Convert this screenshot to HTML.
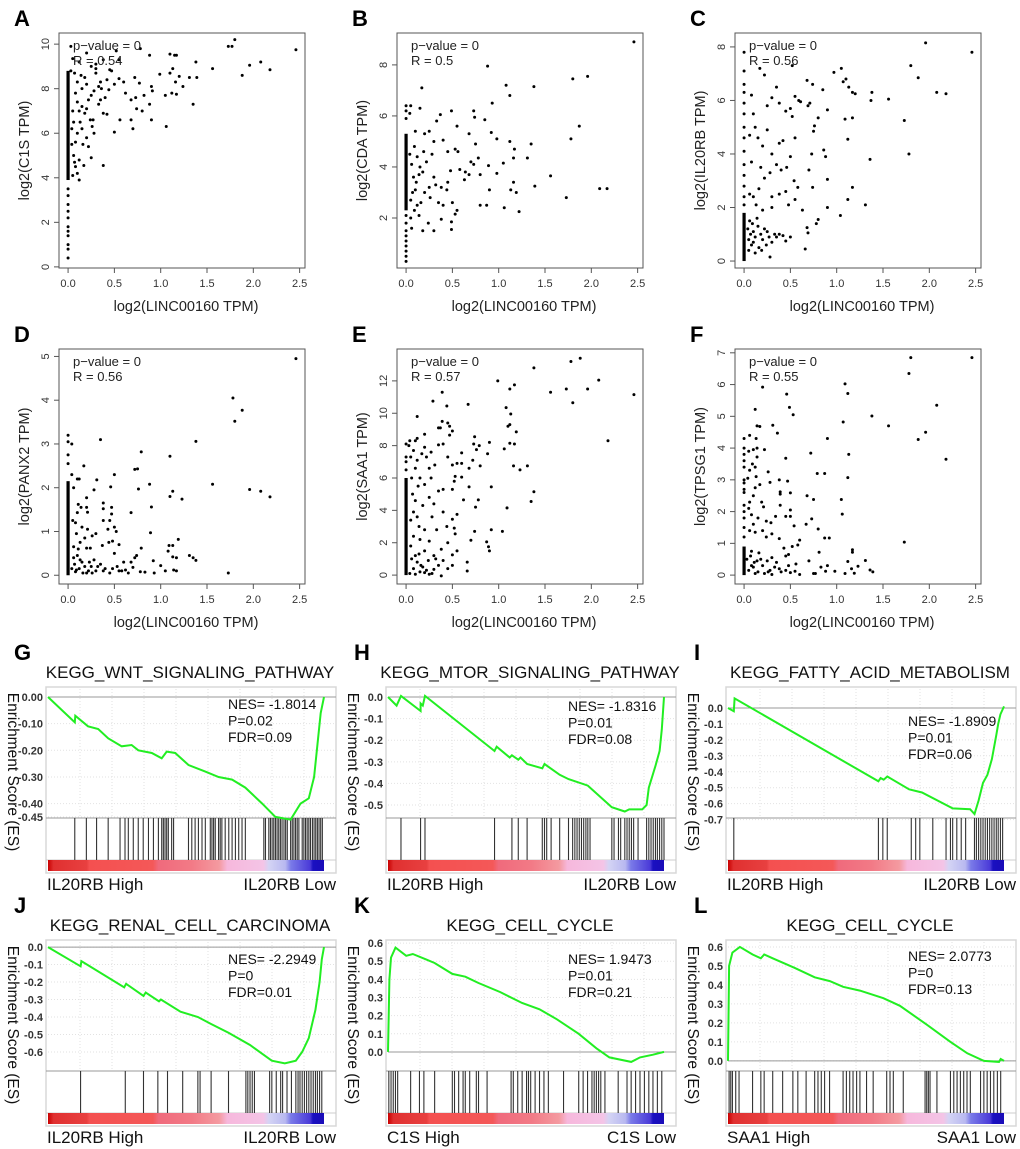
<!DOCTYPE html>
<html><head><meta charset="utf-8"><style>
body{margin:0;background:#fff;}
svg{display:block;font-family:"Liberation Sans",Arial,sans-serif;}
</style></head><body>
<svg id="fig" width="1020" height="1149" viewBox="0 0 1020 1149" xmlns="http://www.w3.org/2000/svg"></svg>
<script>
// ---------- scatter data ----------
const aPts=[[0.03,9.9],[0.05,9.35],[0.12,9.2],[0.2,9.6],[0.25,9.0],[0.3,9.1],[0.38,9.3],[0.52,9.7],[0.55,9.3],[0.78,9.8],[0.88,9.5],[1.1,9.55],[1.15,9.5],[1.17,9.5],[1.73,9.9],[1.77,9.9],[1.8,10.2],[2.46,9.75],[1.56,8.9],[1.38,9.2],[1.96,9.05],[2.08,9.2],[2.18,8.85],[1.88,8.6],[0.99,8.65],[1.1,8.7],[1.13,8.9],[1.2,8.55],[1.16,8.3],[1.24,8.1],[1.31,8.5],[1.39,8.5],[1.35,7.3],[1.06,6.3],[1.05,7.7],[1.12,7.8],[1.17,7.75],[0.9,8.1],[0.91,7.9],[0.82,7.7],[0.77,8.25],[0.72,8.5],[0.73,7.6],[0.68,7.5],[0.62,7.8],[0.6,8.3],[0.55,8.45],[0.47,8.8],[0.44,7.95],[0.5,8.2],[0.5,6.05],[0.56,6.6],[0.68,6.6],[0.7,6.2],[0.74,7.1],[0.88,7.3],[0.9,6.6],[0.8,7.0],[0.42,8.4],[0.4,7.6],[0.38,6.9],[0.38,4.55],[0.35,7.5],[0.33,8.1],[0.3,8.7],[0.28,7.9],[0.26,6.3],[0.25,4.9],[0.22,5.4],[0.2,5.8],[0.17,4.55],[0.15,7.2],[0.12,3.9],[0.1,4.2],[0.08,4.5],[0.06,5.0],[0.1,6.0],[0.13,6.5],[0.18,6.9],[0.22,7.5],[0.15,8.0],[0.1,8.3],[0.08,7.8],[0.05,7.0],[0.06,6.5],[0.12,7.0],[0.2,8.2],[0.27,6.6],[0.3,8.9],[0.18,8.5],[0.07,8.7],[0.03,8.8],[0.35,8.3],[0.45,8.85],[0.28,6.0],[0.24,6.6],[0.15,6.2],[0.08,5.6],[0.04,5.5],[0.16,5.5],[0.12,4.8],[0.05,4.1],[0.2,7.1],[0.33,7.3],[0.42,6.85],[0.36,8.0],[0.1,7.4],[0.14,8.6],[0.25,7.7],[0.04,6.2],[0.07,4.7]];
const aCol=[3.5,3.2,2.8,2.5,2.2,1.8,1.6,1.4,1.0,0.8,0.4];
const aColRange=[3.9,8.8];
const bPts=[[2.46,8.9],[0.88,7.95],[1.8,7.45],[1.96,7.55],[1.08,7.2],[1.38,7.15],[1.12,6.8],[0.17,7.1],[0.93,6.5],[0.73,6.2],[0.74,5.95],[0.49,6.2],[0.37,6.05],[0.33,5.8],[0.15,6.3],[0.05,6.4],[0.04,6.1],[0.55,5.6],[0.68,5.3],[0.85,5.85],[0.92,5.35],[1.87,5.6],[1.78,5.1],[0.98,5.1],[1.12,5.0],[1.35,4.9],[1.17,4.7],[0.75,4.9],[0.78,4.35],[1.16,4.35],[1.31,4.35],[1.05,4.15],[0.53,4.7],[0.56,4.6],[0.45,4.6],[0.4,5.05],[0.3,5.0],[0.25,5.4],[0.2,5.3],[0.1,5.4],[0.89,4.05],[0.7,4.2],[0.63,3.5],[0.68,3.7],[0.58,3.9],[0.48,3.85],[0.45,3.4],[0.38,3.2],[0.35,2.6],[0.4,2.5],[0.5,2.6],[0.55,2.3],[0.53,2.15],[0.44,3.1],[0.3,3.6],[0.25,3.2],[0.2,3.0],[0.16,2.6],[0.14,2.1],[0.12,2.5],[0.1,3.1],[0.08,3.6],[0.06,4.1],[0.12,4.4],[0.18,3.8],[0.22,4.2],[0.28,4.5],[0.32,3.3],[0.24,1.8],[0.18,1.5],[0.3,1.5],[0.49,1.55],[0.49,1.85],[0.38,1.95],[0.8,3.7],[0.87,2.5],[0.9,3.1],[0.98,3.75],[1.06,2.4],[1.13,3.1],[1.16,3.4],[1.19,3.0],[1.22,2.25],[1.39,3.25],[1.56,3.65],[1.73,2.8],[2.09,3.15],[2.17,3.15],[0.8,2.5],[0.73,4.1],[0.64,3.8],[0.06,1.6],[0.05,2.0],[0.15,4.0],[0.09,4.8],[0.04,4.5],[0.07,3.0],[0.11,3.4],[0.19,4.6],[0.26,2.8],[0.14,3.7],[0.05,2.7],[0.09,2.3]];
const bCol=[6.4,6.2,5.9,2.1,1.8,1.5,1.3,1.1,0.9,0.7,0.5,0.3];
const bColRange=[2.3,5.3];
const cPts=[[1.96,8.15],[2.46,7.8],[1.8,7.3],[1.88,6.85],[2.08,6.3],[2.18,6.25],[0.52,7.3],[0.17,7.2],[0.22,6.95],[0.97,7.05],[1.05,7.2],[1.1,6.8],[1.07,6.7],[0.85,6.4],[0.68,6.75],[0.74,6.6],[1.17,6.3],[1.2,6.25],[1.13,6.5],[1.38,6.3],[1.37,6.0],[1.56,6.05],[0.55,6.15],[0.59,6.0],[0.61,5.95],[0.71,5.9],[0.69,5.8],[0.5,5.7],[0.45,5.6],[0.38,5.9],[0.3,6.1],[0.25,5.8],[0.35,6.5],[0.9,5.65],[1.73,5.25],[1.09,5.3],[1.17,5.35],[0.8,5.35],[0.76,5.05],[0.75,4.85],[0.52,5.4],[0.55,4.6],[1.12,4.55],[1.78,4.0],[1.36,3.8],[0.73,4.0],[0.86,4.15],[0.88,3.9],[0.5,3.9],[0.42,4.5],[0.38,4.4],[0.3,4.0],[0.25,4.9],[0.2,4.3],[0.15,4.6],[0.12,5.0],[0.1,5.5],[0.08,6.2],[0.06,4.7],[0.18,3.5],[0.22,3.1],[0.28,3.3],[0.35,3.6],[0.4,3.4],[0.46,3.5],[0.54,3.0],[0.7,3.4],[0.9,3.05],[0.74,2.75],[0.58,2.75],[0.45,2.6],[0.3,2.4],[0.16,2.7],[0.1,2.4],[0.08,3.7],[0.06,2.5],[0.13,2.1],[0.2,1.9],[0.3,2.0],[0.38,2.5],[0.48,2.1],[0.55,2.3],[0.63,1.9],[0.9,2.0],[1.12,2.3],[1.17,2.75],[1.31,2.1],[1.04,1.7],[0.8,1.55],[0.78,1.4],[0.68,1.25],[0.69,1.05],[0.66,0.45],[0.5,0.9],[0.45,0.75],[0.38,1.0],[0.35,0.9],[0.28,0.15],[0.25,1.1],[0.2,0.8],[0.15,1.3],[0.1,1.1],[0.08,0.6],[0.06,1.5],[0.12,0.9],[0.18,1.0],[0.22,1.2],[0.3,0.7],[0.16,0.5],[0.05,0.8],[0.04,1.2],[0.14,1.6],[0.24,0.6],[0.33,1.0],[0.42,0.95],[0.12,0.3],[0.07,1.0],[0.1,0.7],[0.09,1.4],[0.19,0.4],[0.27,0.9],[0.05,0.4]];
const cCol=[2.1,2.4,2.8,3.2,3.6,4.1,4.6,5.0,5.5,5.9,6.3,6.6,7.1,7.8];
const cColRange=[0.0,1.8];
const dPts=[[2.46,4.95],[1.78,4.05],[1.88,3.77],[1.8,3.52],[1.38,3.06],[0.35,3.1],[0.04,3.0],[0.79,2.82],[1.1,2.72],[0.72,2.42],[0.75,2.43],[0.17,2.5],[0.04,2.3],[0.31,2.18],[0.5,2.3],[0.1,2.2],[0.12,2.2],[0.46,2.02],[0.88,2.08],[1.56,2.08],[1.96,1.96],[2.08,1.92],[2.18,1.79],[0.28,1.95],[0.76,1.97],[1.13,1.92],[1.1,1.8],[1.23,1.74],[0.06,2.0],[0.2,1.77],[0.11,1.62],[0.14,1.55],[0.2,1.55],[0.38,1.65],[0.47,1.55],[0.38,1.52],[0.9,1.56],[0.68,1.43],[0.21,1.44],[0.1,1.43],[0.47,1.4],[0.05,1.25],[0.08,1.2],[0.15,1.1],[0.38,1.25],[0.45,1.25],[0.43,1.05],[0.5,1.1],[0.52,1.0],[0.21,1.05],[0.3,0.95],[0.26,0.9],[0.18,0.85],[0.09,0.95],[0.13,0.75],[0.89,0.97],[1.19,0.82],[0.79,0.62],[1.09,0.68],[1.13,0.68],[0.37,0.68],[0.44,0.75],[0.48,0.78],[0.55,0.7],[0.06,0.65],[0.11,0.6],[0.2,0.62],[0.24,0.62],[1.08,0.55],[1.31,0.45],[1.35,0.4],[1.38,0.34],[1.13,0.42],[1.17,0.4],[0.92,0.33],[0.72,0.4],[0.74,0.45],[0.68,0.3],[0.5,0.5],[0.6,0.3],[0.53,0.2],[0.55,0.1],[0.62,0.12],[0.78,0.08],[0.83,0.07],[0.93,0.05],[1.0,0.22],[1.05,0.1],[1.14,0.12],[1.17,0.1],[1.73,0.05],[0.45,0.05],[0.4,0.15],[0.35,0.25],[0.3,0.1],[0.25,0.2],[0.2,0.05],[0.15,0.3],[0.12,0.15],[0.08,0.08],[0.06,0.4],[0.1,0.45],[0.18,0.2],[0.22,0.1],[0.28,0.35],[0.32,0.2],[0.16,0.05],[0.04,0.15],[0.26,0.05],[0.38,0.1],[0.48,0.15],[0.58,0.1],[0.7,0.18],[0.65,0.05],[0.07,0.25],[0.13,0.35],[0.23,0.3],[0.09,0.12]];
const dCol=[2.55,2.75,3.05,3.2];
const dColRange=[0.0,2.15];
const ePts=[[1.88,13.4],[1.78,13.2],[1.38,12.8],[0.99,12.0],[1.17,11.75],[2.08,12.05],[1.12,11.5],[1.56,11.3],[1.73,11.5],[1.96,11.5],[2.46,11.15],[0.39,11.3],[0.29,10.75],[1.8,10.65],[0.67,10.55],[0.44,10.45],[1.08,10.35],[1.13,9.95],[0.12,9.8],[0.39,9.5],[0.45,9.4],[0.47,9.2],[1.1,9.2],[1.12,9.3],[0.35,9.1],[0.37,9.1],[0.5,8.9],[1.19,8.85],[0.2,8.7],[0.47,8.65],[0.74,8.55],[0.12,8.45],[0.04,8.3],[0.03,8.0],[0.1,8.3],[1.12,8.15],[1.17,8.1],[0.9,8.2],[0.73,8.1],[0.79,8.0],[0.4,8.1],[0.35,8.05],[2.18,8.3],[0.2,7.9],[0.27,7.6],[0.17,7.5],[0.08,7.7],[0.05,7.3],[0.12,7.1],[0.22,7.3],[0.6,7.55],[0.88,7.5],[0.76,7.75],[1.06,7.8],[0.31,6.8],[0.25,6.6],[0.45,7.3],[0.5,6.8],[0.55,6.9],[0.6,6.9],[0.72,7.1],[0.8,6.75],[1.16,6.75],[1.31,6.75],[1.23,6.5],[0.68,6.6],[0.1,6.6],[0.15,6.0],[0.2,5.6],[0.27,6.0],[0.35,5.2],[0.4,5.3],[0.52,5.8],[0.53,6.1],[0.6,6.05],[0.5,5.3],[0.68,5.45],[0.92,5.45],[1.38,5.15],[1.35,4.55],[0.75,4.2],[0.78,4.65],[0.62,4.65],[1.09,4.15],[0.55,3.75],[0.5,3.45],[0.4,3.9],[0.3,4.4],[0.25,4.8],[0.18,4.3],[0.12,3.6],[0.08,3.9],[0.05,3.4],[0.14,3.0],[0.2,2.8],[0.28,3.6],[0.33,2.8],[0.44,3.0],[0.52,2.9],[0.53,2.55],[0.74,2.7],[0.92,2.8],[1.04,2.7],[0.7,2.15],[0.87,2.05],[0.89,1.75],[0.9,1.5],[0.55,1.5],[0.5,1.25],[0.45,2.0],[0.38,1.6],[0.3,1.2],[0.25,2.1],[0.2,1.5],[0.15,2.2],[0.1,1.2],[0.08,2.4],[0.05,1.8],[0.12,0.8],[0.18,0.5],[0.22,0.3],[0.28,0.1],[0.35,0.6],[0.4,0.9],[0.45,0.4],[0.5,0.6],[0.66,0.8],[0.66,0.25],[0.38,-0.05],[0.15,0.2],[0.08,0.4],[0.04,0.1],[0.1,0.05],[0.2,0.15],[0.25,0.05],[0.3,0.35],[0.06,1.0],[0.14,1.3],[0.24,0.9],[0.32,1.0],[0.16,0.6],[0.07,5.0],[0.1,4.6],[0.13,5.5],[0.06,6.0]];
const eCol=[6.5,7.0,7.3,8.1];
const eColRange=[0.0,6.0];
const fPts=[[1.8,6.85],[2.46,6.85],[1.78,6.35],[1.09,6.02],[0.2,5.92],[1.12,5.72],[0.46,5.7],[2.08,5.35],[0.49,5.28],[0.12,5.22],[0.53,5.05],[1.38,5.01],[1.07,4.82],[0.31,4.72],[1.56,4.7],[0.14,4.7],[0.17,4.68],[1.96,4.5],[0.36,4.47],[0.06,4.4],[0.13,4.3],[0.9,4.3],[1.88,4.27],[0.14,4.0],[0.22,3.95],[0.1,3.95],[0.05,3.9],[0.72,3.84],[1.13,3.8],[0.45,3.68],[2.18,3.65],[0.14,3.72],[0.09,3.5],[0.12,3.4],[0.06,3.3],[0.26,3.25],[0.79,3.2],[0.87,3.2],[0.13,3.1],[0.04,3.05],[1.12,3.07],[0.38,3.0],[0.47,2.96],[0.28,2.92],[0.17,2.85],[0.12,2.75],[0.39,2.62],[0.5,2.59],[0.39,2.55],[0.68,2.5],[0.1,2.5],[0.75,2.38],[1.05,2.38],[0.06,2.3],[0.19,2.3],[0.05,2.1],[0.39,2.2],[0.21,2.15],[0.5,2.05],[1.06,1.92],[0.45,1.85],[0.5,1.85],[0.34,1.85],[0.08,1.9],[0.15,1.8],[0.24,1.7],[0.29,1.65],[0.73,1.77],[0.67,1.6],[0.54,1.55],[0.8,1.45],[0.1,1.6],[0.2,1.4],[0.12,1.35],[0.06,1.4],[0.3,1.3],[0.24,1.2],[0.38,1.15],[0.6,1.1],[0.87,1.17],[0.92,1.17],[0.58,0.95],[0.52,0.9],[0.43,0.85],[1.73,1.04],[1.17,0.8],[1.17,0.72],[0.81,0.72],[0.48,0.65],[0.45,0.6],[0.16,0.7],[0.08,0.75],[0.3,0.55],[0.25,0.45],[0.7,0.45],[1.31,0.46],[1.12,0.43],[0.56,0.35],[0.48,0.3],[0.38,0.2],[0.33,0.25],[0.28,0.15],[0.2,0.3],[0.15,0.1],[0.1,0.25],[0.05,0.15],[0.22,0.05],[0.4,0.1],[0.45,0.15],[0.55,0.12],[0.6,0.02],[0.75,0.05],[0.77,0.05],[0.83,0.25],[0.88,0.12],[0.9,0.3],[0.98,0.12],[1.09,0.05],[1.16,0.2],[1.19,0.06],[1.23,0.28],[1.36,0.16],[1.39,0.1],[0.03,0.5],[0.12,0.05],[0.18,0.5],[0.26,0.1],[0.35,0.4],[0.08,0.3],[0.14,0.45],[0.3,0.02],[0.5,0.08],[0.07,0.6],[0.11,0.4]];
const fCol=[1.2,1.5,1.8,2.0,2.2,2.6,2.7,2.9,3.0,3.4,3.6,3.8,4.0,4.3];
const fColRange=[0.0,0.9];
const xTicks=[0,0.5,1,1.5,2,2.5];
const xTickLabels=["0.0","0.5","1.0","1.5","2.0","2.5"];
const aYTicks=[0,2,4,6,8,10], bYTicks=[2,4,6,8], cYTicks=[0,2,4,6,8], dYTicks=[0,1,2,3,4,5], eYTicks=[0,2,4,6,8,10,12], fYTicks=[0,1,2,3,4,5,6,7];

// ---------- GSEA data ----------
const gRank=[0,0.097,0.099,0.145,0.182,0.218,0.267,0.303,0.327,0.376,0.412,0.43,0.461,0.509,0.57,0.618,0.667,0.715,0.776,0.824,0.879,0.915,0.945,0.964,0.976,0.988,1.0];
const gES=[0,-0.095,-0.07,-0.11,-0.12,-0.155,-0.185,-0.18,-0.2,-0.21,-0.23,-0.205,-0.21,-0.255,-0.28,-0.3,-0.31,-0.34,-0.4,-0.45,-0.46,-0.4,-0.38,-0.3,-0.18,-0.06,0.0];
const gHits=[0.097,0.139,0.176,0.218,0.261,0.279,0.291,0.309,0.327,0.345,0.364,0.382,0.40,0.412,0.418,0.424,0.43,0.436,0.448,0.455,0.509,0.521,0.533,0.545,0.558,0.57,0.588,0.594,0.60,0.606,0.618,0.624,0.63,0.642,0.655,0.667,0.679,0.691,0.703,0.715,0.782,0.788,0.80,0.806,0.812,0.818,0.824,0.83,0.836,0.842,0.848,0.855,0.861,0.867,0.879,0.885,0.891,0.897,0.903,0.909,0.921,0.927,0.933,0.939,0.945,0.951,0.958,0.964,0.97,0.976,0.982,0.988,0.994];
const gTicks=[0,-0.1,-0.2,-0.3,-0.4,-0.45];
const gTickLabels=["0.00","-0.10","-0.20","-0.30","-0.40","-0.45"];
const hRank=[0,0.031,0.047,0.118,0.118,0.126,0.134,0.386,0.394,0.441,0.449,0.472,0.480,0.504,0.559,0.567,0.622,0.654,0.724,0.811,0.858,0.874,0.921,0.937,0.945,0.969,0.984,0.992,1.0];
const hES=[0,-0.04,0.005,-0.065,-0.03,-0.04,0.005,-0.25,-0.23,-0.28,-0.27,-0.29,-0.28,-0.31,-0.33,-0.31,-0.36,-0.38,-0.41,-0.51,-0.53,-0.52,-0.52,-0.5,-0.42,-0.32,-0.25,-0.15,0.0];
const hHits=[0.047,0.118,0.134,0.386,0.449,0.472,0.504,0.559,0.567,0.575,0.591,0.622,0.654,0.669,0.677,0.685,0.693,0.701,0.709,0.717,0.724,0.732,0.811,0.819,0.835,0.843,0.858,0.866,0.874,0.882,0.89,0.906,0.937,0.945,0.953,0.961,0.969,0.976,0.984,0.992,1.0];
const hTicks=[0,-0.1,-0.2,-0.3,-0.4,-0.5];
const hTickLabels=["0.0","-0.1","-0.2","-0.3","-0.4","-0.5"];
const iRank=[0,0.021,0.024,0.545,0.553,0.564,0.577,0.656,0.703,0.814,0.877,0.893,0.908,0.924,0.940,0.956,0.972,0.979,0.987,1.0];
const iES=[0,-0.02,0.06,-0.46,-0.44,-0.45,-0.43,-0.51,-0.53,-0.63,-0.635,-0.665,-0.58,-0.47,-0.42,-0.32,-0.17,-0.1,-0.04,0.01];
const iHits=[0.021,0.545,0.561,0.577,0.664,0.68,0.695,0.742,0.79,0.806,0.814,0.829,0.845,0.861,0.893,0.9,0.908,0.916,0.924,0.932,0.94,0.948,0.956,0.964,0.972,0.979,0.987,0.995];
const iTicks=[0,-0.1,-0.2,-0.3,-0.4,-0.5,-0.6,-0.7];
const iTickLabels=["0.0","-0.1","-0.2","-0.3","-0.4","-0.5","-0.6","-0.7"];
const jRank=[0,0.118,0.121,0.276,0.283,0.346,0.354,0.402,0.409,0.480,0.543,0.591,0.654,0.732,0.811,0.858,0.898,0.921,0.945,0.969,0.984,0.992,1.0];
const jES=[0,-0.11,-0.08,-0.23,-0.21,-0.28,-0.26,-0.31,-0.30,-0.37,-0.40,-0.44,-0.49,-0.56,-0.65,-0.665,-0.65,-0.6,-0.52,-0.36,-0.2,-0.07,0.0];
const jHits=[0.118,0.28,0.346,0.398,0.433,0.488,0.543,0.551,0.591,0.654,0.717,0.724,0.732,0.74,0.748,0.803,0.811,0.827,0.843,0.85,0.866,0.882,0.898,0.906,0.913,0.921,0.929,0.937,0.945,0.953,0.961,0.969,0.976,0.984,0.992];
const jTicks=[0,-0.1,-0.2,-0.3,-0.4,-0.5,-0.6];
const jTickLabels=["0.0","-0.1","-0.2","-0.3","-0.4","-0.5","-0.6"];
const kRank=[0,0.005,0.011,0.027,0.066,0.09,0.138,0.169,0.233,0.28,0.328,0.407,0.486,0.549,0.612,0.691,0.755,0.802,0.881,0.913,0.96,1.0];
const kES=[0,0.4,0.52,0.575,0.53,0.54,0.51,0.49,0.43,0.415,0.38,0.33,0.27,0.235,0.18,0.1,0.02,-0.03,-0.055,-0.03,-0.015,0.0];
const kHits=[0.003,0.011,0.019,0.027,0.035,0.082,0.114,0.13,0.169,0.233,0.241,0.256,0.272,0.28,0.296,0.32,0.328,0.359,0.446,0.454,0.47,0.486,0.502,0.509,0.517,0.533,0.549,0.565,0.581,0.636,0.691,0.707,0.723,0.739,0.747,0.755,0.763,0.771,0.786,0.834,0.866,0.881,0.897,0.913,0.929,0.945,0.96,0.976,0.992];
const kTicks=[0.6,0.5,0.4,0.3,0.2,0.1,0.0];
const kTickLabels=["0.6","0.5","0.4","0.3","0.2","0.1","0.0"];
const lRank=[0,0.004,0.016,0.043,0.089,0.119,0.131,0.162,0.241,0.314,0.369,0.417,0.478,0.563,0.623,0.721,0.806,0.867,0.927,0.982,0.988,1.0];
const lES=[0,0.5,0.57,0.6,0.56,0.54,0.56,0.54,0.49,0.44,0.42,0.39,0.37,0.33,0.29,0.19,0.1,0.04,0.0,-0.005,0.01,0.0];
const lHits=[0.004,0.01,0.016,0.028,0.04,0.089,0.119,0.131,0.162,0.198,0.235,0.253,0.283,0.314,0.326,0.338,0.35,0.368,0.417,0.429,0.441,0.453,0.466,0.478,0.502,0.526,0.575,0.587,0.599,0.635,0.714,0.72,0.726,0.732,0.757,0.806,0.818,0.83,0.842,0.854,0.866,0.878,0.915,0.927,0.939,0.951,0.963,0.976,0.988];
const lTicks=[0.6,0.5,0.4,0.3,0.2,0.1,0.0];
const lTickLabels=["0.6","0.5","0.4","0.3","0.2","0.1","0.0"];

const NS="http://www.w3.org/2000/svg";
const svg=document.getElementById('fig');
function mk(tag,attrs,parent,text){
  const e=document.createElementNS(NS,tag);
  for(const k in attrs) e.setAttribute(k,attrs[k]);
  if(text!==undefined) e.textContent=text;
  (parent||svg).appendChild(e); return e;
}

const defs=mk('defs',{});
const grad=mk('linearGradient',{id:'cbar',x1:'0',x2:'1',y1:'0',y2:'0'},defs);
[[0,'#c80000'],[0.02,'#e03030'],[0.14,'#e84040'],[0.15,'#f45050'],[0.38,'#f45858'],[0.4,'#f06a7c'],[0.52,'#f27a86'],[0.62,'#f49aa0'],[0.65,'#f6b8dc'],[0.78,'#f4c4e6'],[0.8,'#d4d4f4'],[0.86,'#b8b8f0'],[0.88,'#7a7ae8'],[0.95,'#4a3ad8'],[0.96,'#1a10c0'],[1,'#1a0cb8']].forEach(s=>{mk('stop',{offset:s[0],'stop-color':s[1]},grad);});

function scatter(ox,oy,letter,pts,col,colRange,ylim,yticks,ylabel,r){
  const g=mk('g',{});
  
  
  const L=ox+59,R=ox+305,T=oy+33,B=oy+268;
  const xs=v=>L+(v+0.098)/(2.656)*(R-L);
  const ys=v=>B-(v-ylim[0])/(ylim[1]-ylim[0])*(B-T);
  const lab=mk('text',{x:ox+14,y:oy+26,'font-size':22,'font-weight':'bold'},g,letter);
  
  
  const box=mk('rect',{x:L,y:T,width:R-L,height:B-T,fill:'none',stroke:'#555','stroke-width':1},g);
  
  
  xTicks.forEach((t,i)=>{
    mk('line',{x1:xs(t),x2:xs(t),y1:B,y2:B+5,stroke:'#555'},g);
    const tl=mk('text',{x:xs(t),y:B+19,'font-size':11,'text-anchor':'middle',fill:'#333'},g,xTickLabels[i]);
    
    
  });
  mk('line',{x1:xs(0),x2:xs(2.5),y1:B,y2:B,stroke:'#555'},g);
  yticks.forEach(t=>{
    mk('line',{x1:L-5,x2:L,y1:ys(t),y2:ys(t),stroke:'#555'},g);
    const tl=mk('text',{x:L-10,y:ys(t),'font-size':11,'text-anchor':'middle',fill:'#333',transform:`rotate(-90 ${L-10} ${ys(t)})`},g,String(t));
    
    
  });
  const xt=mk('text',{x:(L+R)/2+4,y:oy+311,'font-size':14.5,'text-anchor':'middle',fill:'#222'},g,'log2(LINC00160 TPM)');
  
  
  const yt=mk('text',{x:ox+29,y:(T+B)/2,'font-size':14.5,'text-anchor':'middle',fill:'#222',transform:`rotate(-90 ${ox+29} ${(T+B)/2})`},g,ylabel);
  
  
  const cr=mk('rect',{x:xs(0)-1.6,y:ys(colRange[1]),width:3.2,height:ys(colRange[0])-ys(colRange[1]),fill:'#000'},g);
  
  
  col.forEach(v=>{mk('circle',{cx:xs(0),cy:ys(v),r:1.5,fill:'#000'},g);});
  pts.forEach(p=>{
    const c=mk('circle',{cx:xs(p[0]),cy:ys(p[1]),r:1.5,fill:'#000'},g);
    
    
  });
  const t1=mk('text',{x:L+14,y:T+17,'font-size':13,fill:'#222'},g,'p\u2212value = 0');
  
  
  const t2=mk('text',{x:L+14,y:T+32,'font-size':13,fill:'#222'},g,'R = '+r);
  
  
}

scatter(0,0,'A',aPts,aCol,aColRange,[-0.05,10.5],aYTicks,'log2(C1S TPM)','0.54');
scatter(338,0,'B',bPts,bCol,bColRange,[0.04,9.25],bYTicks,'log2(CDA TPM)','0.5');
scatter(676,0,'C',cPts,cCol,cColRange,[-0.26,8.52],cYTicks,'log2(IL20RB TPM)','0.56');
scatter(0,316,'D',dPts,dCol,dColRange,[-0.2,5.17],dYTicks,'log2(PANX2 TPM)','0.56');
scatter(338,316,'E',ePts,eCol,eColRange,[-0.55,13.97],eYTicks,'log2(SAA1 TPM)','0.57');
scatter(676,316,'F',fPts,fCol,fColRange,[-0.28,7.12],fYTicks,'log2(TPSG1 TPM)','0.55');

function gsea(ox,oy,letter,title,rank,es,hits,ticks,tickLabels,ylim,nes,p,fdr,nesY,hi,lo){
  const g=mk('g',{});
  
  
  const L=ox+48,R=ox+324,FR=ox+336,T=oy+49,EB=oy+178,HB=oy+220,CB=oy+231;
  const xs=v=>L+v*(R-L);
  const ys=v=>EB-(v-ylim[0])/(ylim[1]-ylim[0])*(EB-T);
  const lab=mk('text',{x:ox+14,y:oy+20,'font-size':22,'font-weight':'bold'},g,letter);
  
  
  const tt=mk('text',{x:ox+190,y:oy+38,'font-size':17,'text-anchor':'middle',fill:'#111'},g,title);
  
  
  const fr=mk('rect',{x:L-2,y:T-2,width:FR-L+2,height:CB-T+4,fill:'#fff',stroke:'#d8d8d8','stroke-width':1.5},g);
  
  
  for(let i=1;i<9;i++){const x=L+i*(FR-L)/9;mk('line',{x1:x,x2:x,y1:T,y2:EB,stroke:'#e2e2e2','stroke-dasharray':'1 2'},g);}
  ticks.forEach((t,i)=>{
    mk('line',{x1:L,x2:FR,y1:ys(t),y2:ys(t),stroke:'#e2e2e2','stroke-dasharray':'1 2'},g);
    const tl=mk('text',{x:L-5,y:ys(t)+4,'font-size':11,'font-weight':'bold','text-anchor':'end',fill:'#333'},g,tickLabels[i]);
    
    
  });
  mk('line',{x1:L,x2:FR,y1:ys(0),y2:ys(0),stroke:'#999','stroke-width':1},g);
  mk('line',{x1:L-2,x2:FR,y1:EB,y2:EB,stroke:'#999'},g);
  mk('line',{x1:L-2,x2:FR,y1:HB,y2:HB,stroke:'#ccc'},g);
  hits.forEach(h=>{
    const l=mk('line',{x1:xs(h),x2:xs(h),y1:EB,y2:HB,stroke:'#333','stroke-width':1.1},g);
    
    
  });
  const cb=mk('rect',{x:L,y:HB,width:R-L,height:CB-HB,fill:'url(#cbar)'},g);
  
  
  const d=rank.map((r,i)=>(i?'L':'M')+xs(r).toFixed(1)+' '+ys(es[i]).toFixed(1)).join(' ');
  const pl=mk('path',{d:d,fill:'none',stroke:'#22ee22','stroke-width':2},g);
  
  
  const ny=oy+nesY;
  [['NES= '+nes,'nes-label'],['P='+p,'p-label'],['FDR='+fdr,'fdr-label']].forEach((s,i)=>{
    const t=mk('text',{x:ox+228,y:ny+i*16.5,'font-size':14,fill:'#111'},g,s[0]);
    
    
  });
  const yt=mk('text',{x:ox+8,y:oy+132,'font-size':15.5,'text-anchor':'middle',fill:'#111',transform:`rotate(90 ${ox+8} ${oy+132})`},g,'Enrichment Score (ES)');
  
  
  const h1=mk('text',{x:L-1,y:oy+250,'font-size':17,fill:'#111'},g,hi);
  
  
  const h2=mk('text',{x:FR,y:oy+250,'font-size':17,'text-anchor':'end',fill:'#111'},g,lo);
  
  
}

gsea(0,640,'G','KEGG_WNT_SIGNALING_PATHWAY',gRank,gES,gHits,gTicks,gTickLabels,[-0.454,0.03],'-1.8014','0.02','0.09',69,'IL20RB High','IL20RB Low');
gsea(340,640,'H','KEGG_MTOR_SIGNALING_PATHWAY',hRank,hES,hHits,hTicks,hTickLabels,[-0.56,0.037],'-1.8316','0.01','0.08',71,'IL20RB High','IL20RB Low');
gsea(680,640,'I','KEGG_FATTY_ACID_METABOLISM',iRank,iES,iHits,iTicks,iTickLabels,[-0.69,0.119],'-1.8909','0.01','0.06',86,'IL20RB High','IL20RB Low');
gsea(0,893,'J','KEGG_RENAL_CELL_CARCINOMA',jRank,jES,jHits,jTicks,jTickLabels,[-0.709,0.029],'-2.2949','0','0.01',71,'IL20RB High','IL20RB Low');
gsea(340,893,'K','KEGG_CELL_CYCLE',kRank,kES,kHits,kTicks,kTickLabels,[-0.105,0.606],'1.9473','0.01','0.21',71,'C1S High','C1S Low');
gsea(680,893,'L','KEGG_CELL_CYCLE',lRank,lES,lHits,lTicks,lTickLabels,[-0.053,0.626],'2.0773','0','0.13',68,'SAA1 High','SAA1 Low');
</script>
</body></html>
